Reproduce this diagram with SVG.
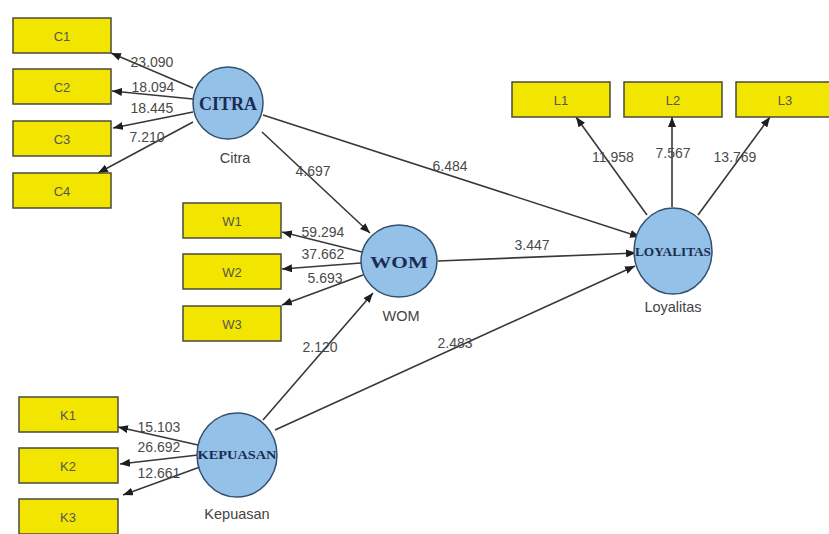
<svg xmlns="http://www.w3.org/2000/svg" width="829" height="534" viewBox="0 0 829 534">
  <defs>
    <marker id="ah" viewBox="0 0 10 8" refX="10" refY="4" markerWidth="10" markerHeight="8" orient="auto" markerUnits="userSpaceOnUse">
      <path d="M0,0 L10,4 L0,8 z" fill="#1e1e1e"/>
    </marker>
  </defs>
  <style>
    .box { fill: #f2e600; stroke: #4a4a3c; stroke-width: 1.5; }
    .boxt { font-family: "Liberation Sans", Arial, sans-serif; font-size: 13px; fill: #555; text-anchor: middle; dominant-baseline: central; }
    .lv { fill: #93c1e8; stroke: #34506e; stroke-width: 1.5; }
    .lvt { font-family: "Liberation Serif", "Times New Roman", serif; font-weight: bold; fill: #1b2b52; text-anchor: middle; dominant-baseline: central; }
    .cap { font-family: "Liberation Sans", Arial, sans-serif; font-size: 14.5px; fill: #444; text-anchor: middle; }
    .ln { stroke: #383838; stroke-width: 1.6; fill: none; marker-end: url(#ah); }
    .val { font-family: "Liberation Sans", Arial, sans-serif; font-size: 14px; fill: #4a4a4a; text-anchor: middle; }
  </style>
  <rect width="829" height="534" fill="#fff"/>

  <!-- connectors -->
  <g id="connectors">
    <!-- Citra indicators -->
    <line class="ln" x1="193" y1="88" x2="111" y2="53"/>
    <line class="ln" x1="193" y1="99" x2="112" y2="91"/>
    <line class="ln" x1="193" y1="112" x2="113" y2="128"/>
    <line class="ln" x1="193" y1="122" x2="98" y2="173"/>
    <!-- WOM indicators -->
    <line class="ln" x1="362" y1="252" x2="282" y2="232"/>
    <line class="ln" x1="361" y1="263" x2="282" y2="269"/>
    <line class="ln" x1="363" y1="275" x2="282" y2="305"/>
    <!-- Kepuasan indicators -->
    <line class="ln" x1="198" y1="445" x2="118" y2="427"/>
    <line class="ln" x1="198" y1="455" x2="120" y2="464"/>
    <line class="ln" x1="200" y1="467" x2="123" y2="495"/>
    <!-- Loyalitas indicators -->
    <line class="ln" x1="647" y1="215" x2="576" y2="117"/>
    <line class="ln" x1="672" y1="207" x2="672" y2="117"/>
    <line class="ln" x1="698" y1="215" x2="770" y2="117"/>
    <!-- structural paths -->
    <line class="ln" x1="262" y1="132" x2="370" y2="233"/>
    <line class="ln" x1="263" y1="115" x2="640" y2="237"/>
    <line class="ln" x1="438" y1="261" x2="636" y2="253"/>
    <line class="ln" x1="263" y1="420" x2="373" y2="293"/>
    <line class="ln" x1="275" y1="430" x2="635" y2="266"/>
  </g>

  <!-- path values -->
  <g id="values">
    <text class="val" x="152" y="67">23.090</text>
    <text class="val" x="153" y="92">18.094</text>
    <text class="val" x="152" y="113">18.445</text>
    <text class="val" x="147" y="142">7.210</text>
    <text class="val" x="323" y="237">59.294</text>
    <text class="val" x="323" y="259">37.662</text>
    <text class="val" x="325" y="283">5.693</text>
    <text class="val" x="159" y="432">15.103</text>
    <text class="val" x="159" y="452">26.692</text>
    <text class="val" x="159" y="478">12.661</text>
    <text class="val" x="613" y="162">11.958</text>
    <text class="val" x="673" y="158">7.567</text>
    <text class="val" x="735" y="162">13.769</text>
    <text class="val" x="313" y="176">4.697</text>
    <text class="val" x="450" y="171">6.484</text>
    <text class="val" x="532" y="250">3.447</text>
    <text class="val" x="320" y="352">2.120</text>
    <text class="val" x="455" y="348">2.483</text>
  </g>

  <!-- indicator boxes -->
  <g id="C1"><rect class="box" x="13" y="18" width="98" height="35"/><text class="boxt" x="62" y="36">C1</text></g>
  <g id="C2"><rect class="box" x="13" y="69" width="98" height="35"/><text class="boxt" x="62" y="87">C2</text></g>
  <g id="C3"><rect class="box" x="13" y="121" width="98" height="35"/><text class="boxt" x="62" y="139">C3</text></g>
  <g id="C4"><rect class="box" x="13" y="173" width="98" height="35"/><text class="boxt" x="62" y="191">C4</text></g>

  <g id="W1"><rect class="box" x="183" y="203" width="98" height="35"/><text class="boxt" x="232" y="221">W1</text></g>
  <g id="W2"><rect class="box" x="183" y="254" width="98" height="35"/><text class="boxt" x="232" y="272">W2</text></g>
  <g id="W3"><rect class="box" x="183" y="306" width="98" height="35"/><text class="boxt" x="232" y="324">W3</text></g>

  <g id="K1"><rect class="box" x="19" y="397" width="99" height="35"/><text class="boxt" x="68" y="415">K1</text></g>
  <g id="K2"><rect class="box" x="19" y="448" width="99" height="35"/><text class="boxt" x="68" y="466">K2</text></g>
  <g id="K3"><rect class="box" x="19" y="499" width="99" height="35"/><text class="boxt" x="68" y="517">K3</text></g>

  <g id="L1"><rect class="box" x="512" y="82" width="98" height="35"/><text class="boxt" x="561" y="100">L1</text></g>
  <g id="L2"><rect class="box" x="624" y="82" width="98" height="35"/><text class="boxt" x="673" y="100">L2</text></g>
  <g id="L3"><rect class="box" x="736" y="82" width="98" height="35"/><text class="boxt" x="785" y="100">L3</text></g>

  <!-- latent variables -->
  <g id="CITRA">
    <ellipse class="lv" cx="228" cy="103" rx="35" ry="36"/>
    <text class="lvt" x="228" y="104" font-size="18">CITRA</text>
    <text class="cap" x="235" y="163">Citra</text>
  </g>
  <g id="WOM">
    <ellipse class="lv" cx="399" cy="261" rx="38" ry="36"/>
    <text class="lvt" x="399" y="262" font-size="17" textLength="58" lengthAdjust="spacingAndGlyphs">WOM</text>
    <text class="cap" x="401" y="321">WOM</text>
  </g>
  <g id="KEPUASAN">
    <ellipse class="lv" cx="237" cy="455" rx="40" ry="42"/>
    <text class="lvt" x="237" y="455" font-size="12" textLength="79" lengthAdjust="spacingAndGlyphs">KEPUASAN</text>
    <text class="cap" x="237" y="519">Kepuasan</text>
  </g>
  <g id="LOYALITAS">
    <ellipse class="lv" cx="673" cy="251" rx="39" ry="43"/>
    <text class="lvt" x="673" y="252" font-size="12" textLength="76" lengthAdjust="spacingAndGlyphs">LOYALITAS</text>
    <text class="cap" x="673" y="312">Loyalitas</text>
  </g>
</svg>
